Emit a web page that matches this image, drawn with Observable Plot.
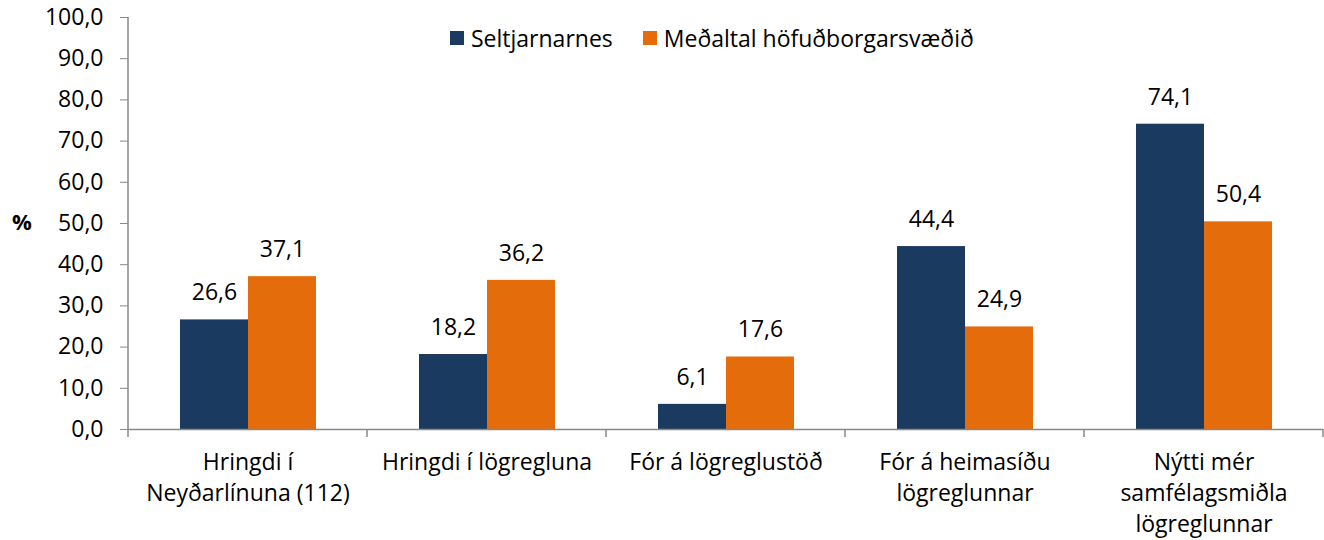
<!DOCTYPE html>
<html>
<head>
<meta charset="utf-8">
<script src="https://cdn.jsdelivr.net/npm/d3@7"></script>
<script src="https://cdn.jsdelivr.net/npm/@observablehq/plot@0.6"></script>
<style>
  body { margin: 0; background: #fff; font-family: "Open Sans", sans-serif; }
  #wrap { position: relative; width: 1324px; height: 540px; }
  #legend { position: absolute; left: 450px; top: 22px; display: flex; align-items: center; font-size: 23px; color: #000; line-height: 32px; }
  .sw { display: inline-block; width: 14px; height: 14px; margin-right: 7px; }
  .item { display: flex; align-items: center; margin-right: 30px; }
  #pct { position: absolute; left: 12px; top: 206px; font-size: 22px; font-weight: bold; }
</style>
</head>
<body>
<div id="wrap">
  <div id="chart"></div>
  <div id="legend"></div>
  <div id="pct">%</div>
</div>
<script>
const categories = [
  "Hringdi í\nNeyðarlínuna (112)",
  "Hringdi í lögregluna",
  "Fór á lögreglustöð",
  "Fór á heimasíðu\nlögreglunnar",
  "Nýtti mér\nsamfélagsmiðla\nlögreglunnar"
];
const series = ["Seltjarnarnes", "Meðaltal höfuðborgarsvæðið"];
const seltjarnarnes = [26.6, 18.2, 6.1, 44.4, 74.1];
const medaltal = [37.1, 36.2, 17.6, 24.9, 50.4];
const colors = ["#1b3a5f", "#e46c0a"];
const yTicks = [0, 10, 20, 30, 40, 50, 60, 70, 80, 90, 100];

const data = [];
categories.forEach((c, i) => {
  data.push({cat: c, series: series[0], value: seltjarnarnes[i]});
  data.push({cat: c, series: series[1], value: medaltal[i]});
});

const fmt = d => d.toFixed(1).replace(".", ",");

const plot = Plot.plot({
  width: 1324,
  height: 540,
  marginLeft: 128,
  marginRight: 1,
  marginTop: 17,
  marginBottom: 111,
  style: {fontFamily: "Open Sans", fontSize: "23px", color: "#000", background: "#fff", overflow: "visible"},
  fx: {domain: categories, padding: 0, label: null},
  x: {domain: series, paddingInner: 0, paddingOuter: 0.757, axis: null},
  y: {domain: [0, 100], label: null},
  color: {domain: series, range: colors},
  marks: [
    Plot.axisY({ticks: yTicks, tickFormat: fmt, tickSize: 8, tickPadding: 17, stroke: "#888", fill: "#000", fontSize: 23, label: null}),
    Plot.axisFx({anchor: "bottom", tickSize: 0, tickPadding: 18, fontSize: 23, lineHeight: 1.36, label: null, fill: "#000"}),
    Plot.barY(data, {fx: "cat", x: "series", y: "value", fill: "series"}),
    Plot.ruleY([0], {stroke: "#888", strokeWidth: 1.5}),
    Plot.text(data, {fx: "cat", x: "series", y: "value", text: d => fmt(d.value), dy: -27, fontSize: 23, fill: "#000"})
  ]
});

document.getElementById("chart").appendChild(plot);

// axis line and category boundary ticks via the plot's scales
const svg = d3.select(plot);
const yS = plot.scale("y");
const fxS = plot.scale("fx");
const y0 = yS.apply(0), y100 = yS.apply(100);
const left = 128;
const g = svg.append("g").attr("stroke", "#888").attr("stroke-width", 1.5);
g.append("line").attr("x1", left).attr("x2", left).attr("y1", y100).attr("y2", y0 + 8);
const bw = fxS.bandwidth;
categories.forEach((c, i) => {
  const x = fxS.apply(c) + bw;
  g.append("line").attr("x1", x).attr("x2", x).attr("y1", y0).attr("y2", y0 + 8);
});

const legend = d3.select("#legend");
series.forEach((s, i) => {
  const it = legend.append("div").attr("class", "item");
  it.append("span").attr("class", "sw").style("background", colors[i]);
  it.append("span").text(s);
});
</script>
</body>
</html>
